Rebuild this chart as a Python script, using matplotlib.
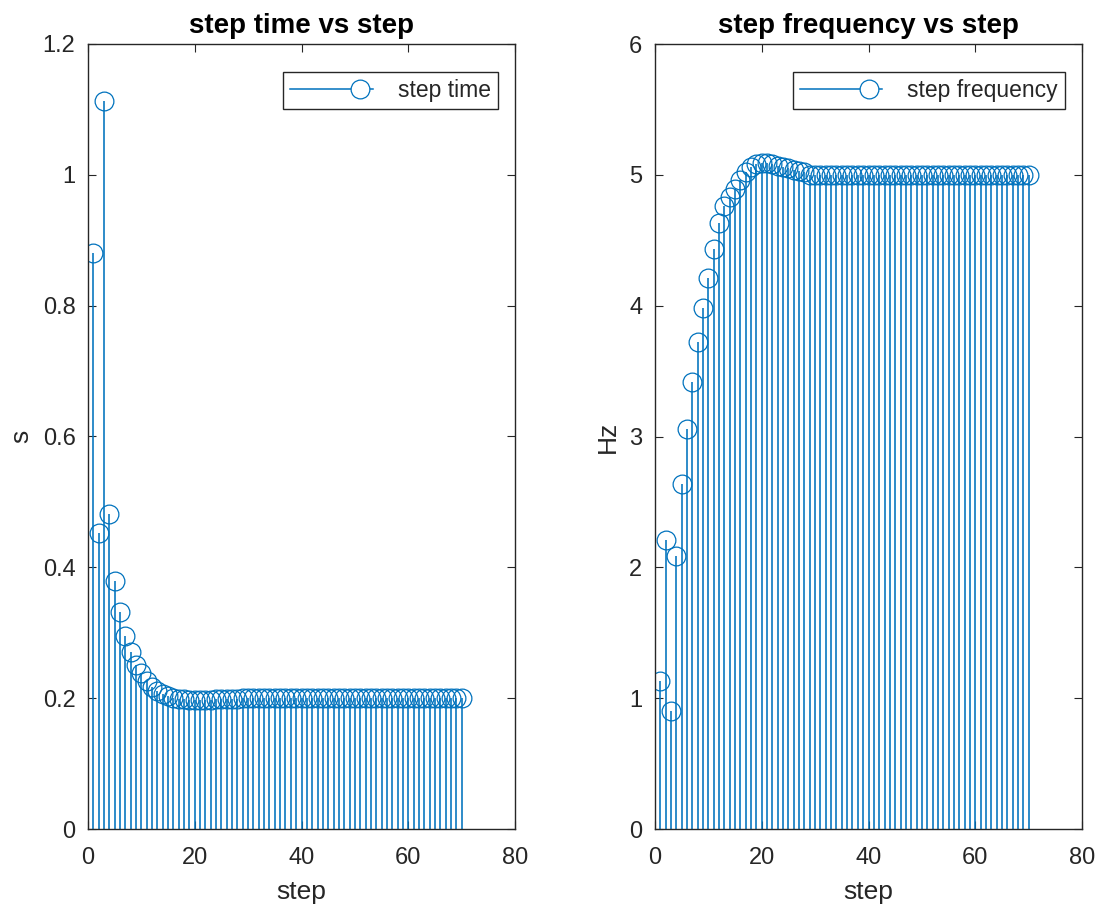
import matplotlib
matplotlib.use("Agg")
import matplotlib.pyplot as plt
from matplotlib.lines import Line2D
from matplotlib.legend_handler import HandlerBase

plt.rcParams['font.family'] = ['Liberation Sans', 'DejaVu Sans']

steps = list(range(1, 71))

step_time = [0.881, 0.452, 1.113, 0.481, 0.379, 0.332, 0.295, 0.270, 0.251, 0.238,
             0.227, 0.217, 0.211, 0.207, 0.204, 0.201, 0.199, 0.198, 0.197, 0.197,
             0.197, 0.197, 0.197, 0.198, 0.198, 0.198, 0.199, 0.199] + [0.200] * 42

step_freq = [1.13, 2.21, 0.90, 2.09, 2.64, 3.06, 3.42, 3.72, 3.98, 4.21,
             4.43, 4.63, 4.76, 4.83, 4.89, 4.96, 5.02, 5.06, 5.08, 5.09,
             5.09, 5.08, 5.07, 5.06, 5.05, 5.04, 5.03, 5.02] + [5.00] * 42

titles = ["step time vs step", "step frequency vs step"]
ylabels = ["s", "Hz"]
legend_labels = ["step time", "step frequency"]
ylims = [(0, 1.2), (0, 6)]
yticks = [[0, 0.2, 0.4, 0.6, 0.8, 1.0, 1.2], [0, 1, 2, 3, 4, 5, 6]]
ytick_labels = [["0", "0.2", "0.4", "0.6", "0.8", "1", "1.2"], ["0", "1", "2", "3", "4", "5", "6"]]
xticks = [0, 20, 40, 60, 80]

BLUE = '#0072BD'
DARK = '#262626'
MS = 13.5


class StemLegendHandler(HandlerBase):
    def create_artists(self, legend, orig_handle, xdescent, ydescent, width,
                       height, fontsize, trans):
        y = height / 2 - ydescent
        line = Line2D([-xdescent, width - xdescent], [y, y], color=BLUE, lw=1.1)
        mk = Line2D([-xdescent + 0.84 * width], [y], marker='o', ls='none',
                    markersize=MS, markerfacecolor='white', markeredgecolor=BLUE,
                    markeredgewidth=0.9)
        line.set_transform(trans)
        mk.set_transform(trans)
        return [line, mk]


fig = plt.figure(figsize=(11.07, 9.18), dpi=100)
ax1 = fig.add_axes([88/1107, 89/918, 427/1107, 785/918])
ax2 = fig.add_axes([655/1107, 89/918, 427/1107, 785/918])

for ax, vals, title, ylab, leg, ylim, yt, ytl in zip(
        [ax1, ax2], [step_time, step_freq], titles, ylabels, legend_labels,
        ylims, yticks, ytick_labels):
    ml, sl, bl = ax.stem(steps, vals, linefmt='-', markerfmt='o', basefmt=' ')
    sl.set_color(BLUE)
    sl.set_linewidth(1.15)
    ml.set_markerfacecolor('none')
    ml.set_markeredgecolor(BLUE)
    ml.set_markersize(MS)
    ml.set_markeredgewidth(0.9)
    ax.set_xlim(0, 80)
    ax.set_ylim(*ylim)
    ax.set_xticks(xticks)
    ax.set_yticks(yt)
    ax.set_yticklabels(ytl)
    ax.tick_params(direction='in', top=True, right=True, length=6, width=0.8,
                   colors=DARK, labelsize=17)
    ax.tick_params(axis='x', pad=13)
    ax.tick_params(axis='y', pad=9)
    for sp in ax.spines.values():
        sp.set_color(DARK)
        sp.set_linewidth(1.0)
    ax.set_title(title, fontsize=20, fontweight='bold', color='black', pad=8)
    ax.set_xlabel('step', fontsize=19, color=DARK, labelpad=8)
    ax.set_ylabel(ylab, fontsize=19, color=DARK, labelpad=7)
    h = Line2D([0], [0], color=BLUE)
    lg = ax.legend([h], [leg], loc='upper right', bbox_to_anchor=(0.960, 0.9643),
                   borderaxespad=0, fontsize=16.5, fancybox=False,
                   framealpha=1, edgecolor=DARK, handlelength=3.6,
                   handletextpad=1.1, borderpad=0.3,
                   handler_map={h: StemLegendHandler()})
    lg.get_frame().set_linewidth(1.0)
    for t in lg.get_texts():
        t.set_color(DARK)

fig.savefig('out.png', dpi=100)
